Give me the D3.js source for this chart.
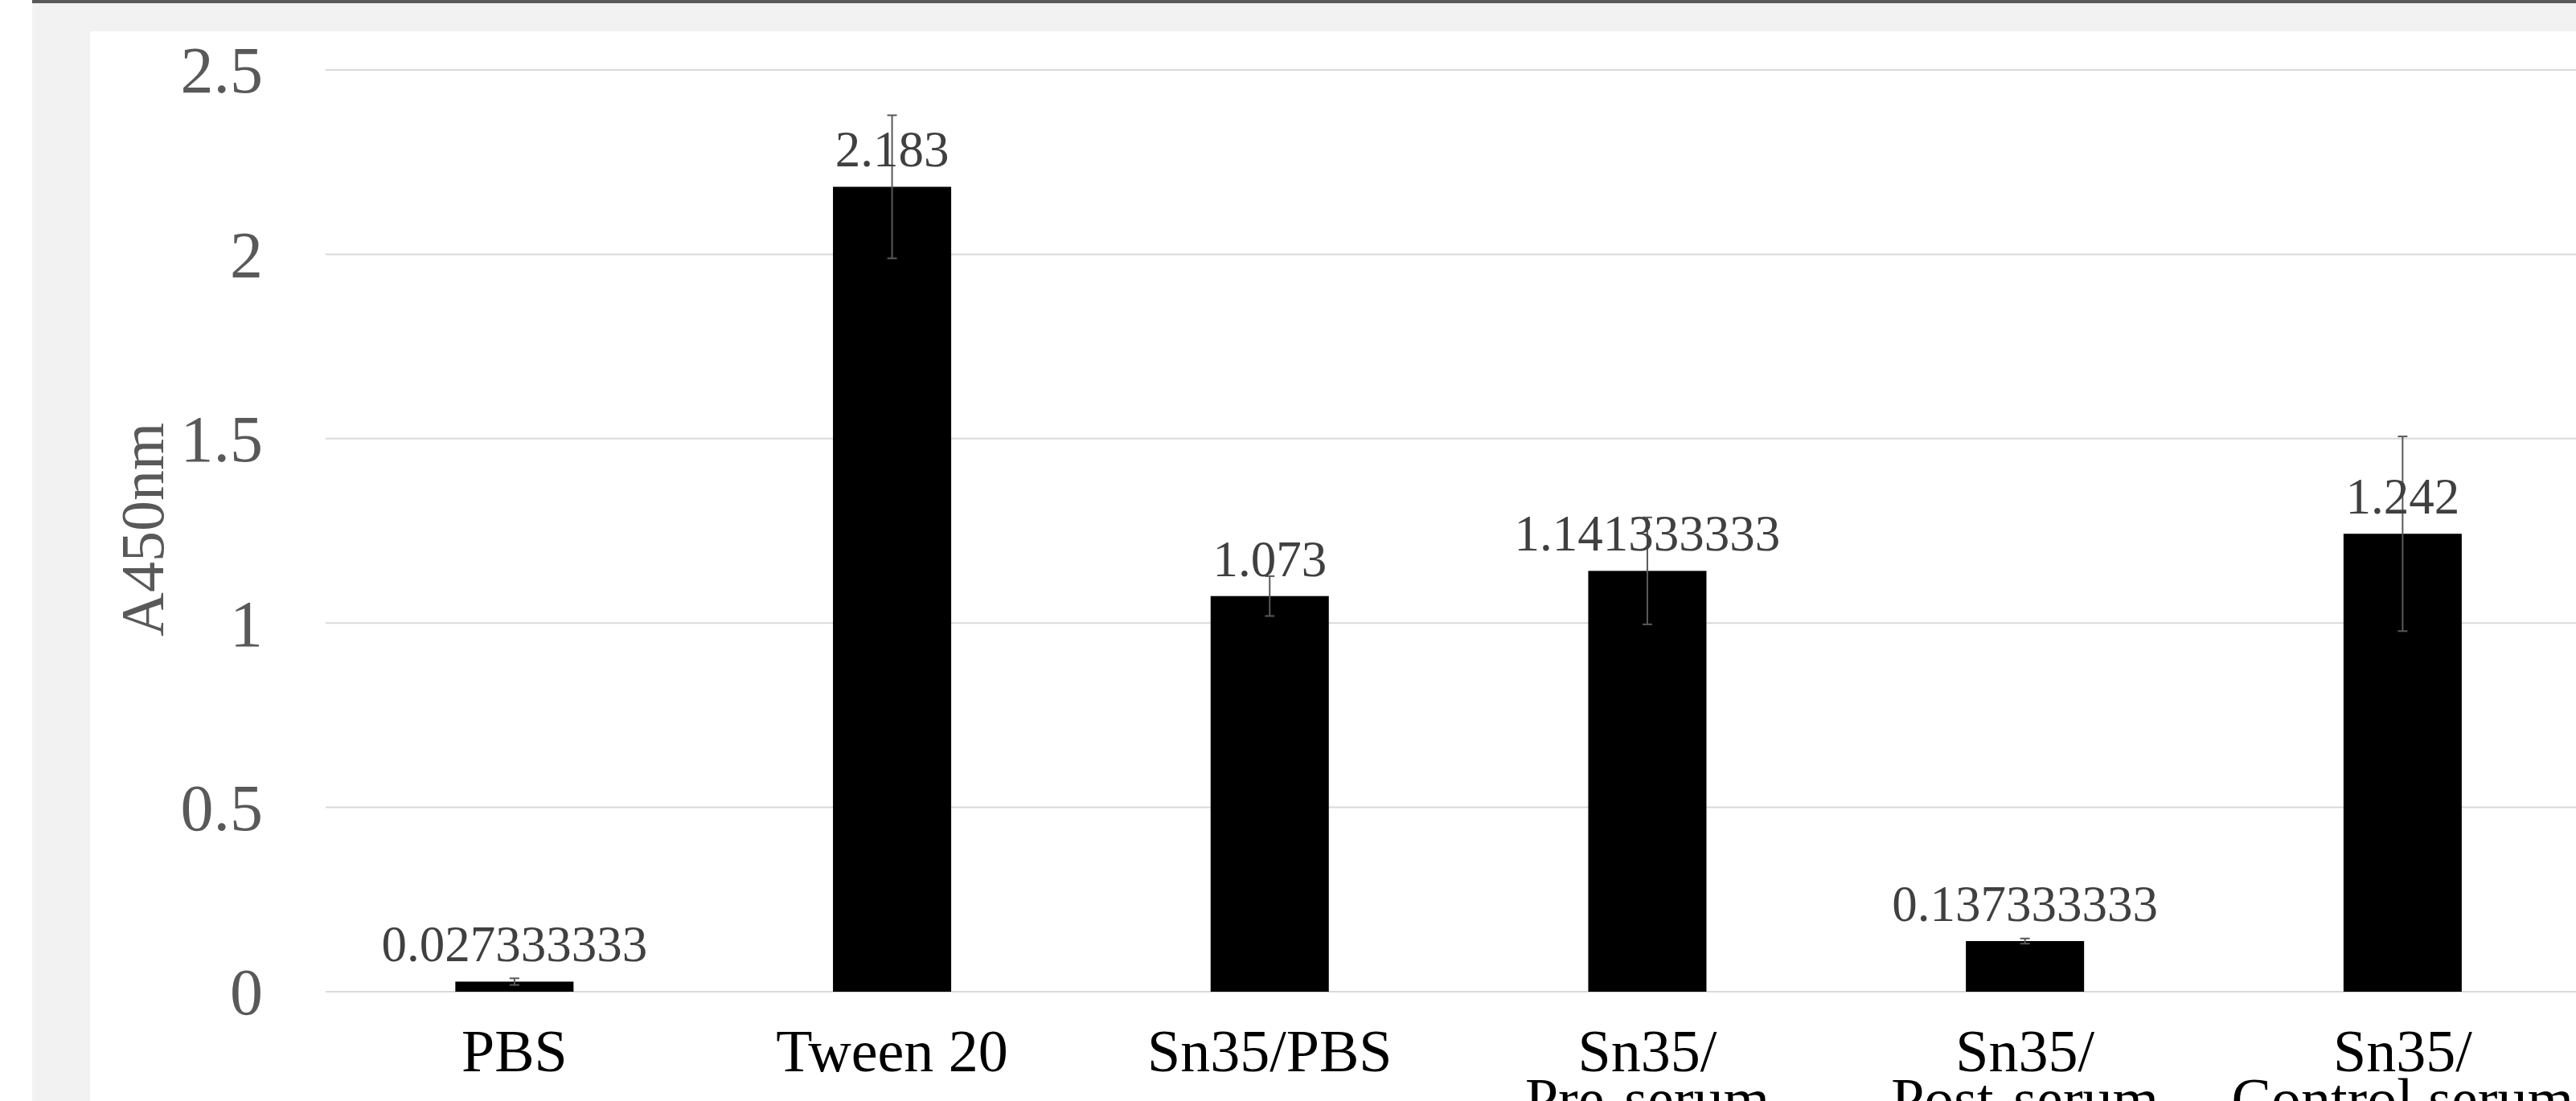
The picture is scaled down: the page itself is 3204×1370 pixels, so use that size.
<!DOCTYPE html>
<html>
<head>
<meta charset="utf-8">
<script src="https://cdn.jsdelivr.net/npm/d3@7"></script>
<style>
  html, body { margin: 0; padding: 0; background: #ffffff; overflow: hidden; }
  svg { display: block; }
</style>
</head>
<body>
<script>
// ---- data ----
const categories = ["PBS", "Tween 20", "Sn35/PBS", "Sn35/\nPre-serum", "Sn35/\nPost-serum", "Sn35/\nControl serum"];
const values = [0.027333333, 2.183, 1.073, 1.141333333, 0.137333333, 1.242];
const valueLabels = ["0.027333333", "2.183", "1.073", "1.141333333", "0.137333333", "1.242"];
const errors = [0.009, 0.194, 0.054, 0.145, 0.007, 0.264];
const yTicks = [0, 0.5, 1, 1.5, 2, 2.5];
const yTitle = "A450nm";

// ---- layout ----
const W = 3204, H = 1370;
const plotLeft = 405, step = 469.7;
const plotRight = plotLeft + step * categories.length;
const yTop = 87, yBottom = 1234;
const FONT = "'Liberation Serif', 'Times New Roman', serif";

const svg = d3.select("body").append("svg").attr("width", W).attr("height", H);

// frame / backgrounds
svg.append("rect").attr("x", 40).attr("y", 0).attr("width", W - 40).attr("height", H).attr("fill", "#f2f2f2");
svg.append("rect").attr("x", 40).attr("y", 0).attr("width", W - 40).attr("height", 4).attr("fill", "#595959");
svg.append("rect").attr("x", 112).attr("y", 39).attr("width", W - 112).attr("height", H - 39).attr("fill", "#ffffff");

const x = d3.scaleBand().domain(categories).range([plotLeft, plotRight])
  .paddingInner(0.687).paddingOuter(0.3435);
const y = d3.scaleLinear().domain([0, 2.5]).range([yBottom, yTop]);

// gridlines
svg.append("g").selectAll("line").data(yTicks).join("line")
  .attr("x1", plotLeft).attr("x2", plotRight)
  .attr("y1", d => y(d)).attr("y2", d => y(d))
  .attr("stroke", "#d9d9d9").attr("stroke-width", 2);

// y axis labels
const yAxis = d3.axisLeft(y).tickValues(yTicks).tickSize(0).tickPadding(78).tickFormat(d3.format("~g"));
const gy = svg.append("g").attr("transform", `translate(${plotLeft},0)`).call(yAxis);
gy.select(".domain").remove();
gy.selectAll("text")
  .attr("font-family", FONT).attr("font-size", 82).attr("fill", "#595959")
  .attr("dy", "0.34em");

// y title
svg.append("text")
  .attr("transform", `translate(203,659) rotate(-90)`)
  .attr("text-anchor", "middle")
  .attr("font-family", FONT).attr("font-size", 76).attr("fill", "#595959")
  .text(yTitle);

// bars
svg.append("g").selectAll("rect").data(categories).join("rect")
  .attr("x", d => x(d)).attr("width", x.bandwidth())
  .attr("y", (d, i) => y(values[i]))
  .attr("height", (d, i) => y(0) - y(values[i]))
  .attr("fill", "#000000");

// error bars
const eg = svg.append("g").attr("stroke", "#595959").attr("stroke-width", 2);
categories.forEach((c, i) => {
  const cx = x(c) + x.bandwidth() / 2;
  const hi = y(values[i] + errors[i]), lo = y(values[i] - errors[i]);
  eg.append("line").attr("x1", cx).attr("x2", cx).attr("y1", hi).attr("y2", lo);
  eg.append("line").attr("x1", cx - 6).attr("x2", cx + 6).attr("y1", hi).attr("y2", hi);
  eg.append("line").attr("x1", cx - 6).attr("x2", cx + 6).attr("y1", lo).attr("y2", lo);
});

// data labels
svg.append("g").selectAll("text").data(categories).join("text")
  .attr("x", d => x(d) + x.bandwidth() / 2)
  .attr("y", (d, i) => y(values[i]) - 25)
  .attr("text-anchor", "middle")
  .attr("font-family", FONT).attr("font-size", 63).attr("fill", "#404040")
  .text((d, i) => valueLabels[i]);

// category labels
const cl = svg.append("g").selectAll("text").data(categories).join("text")
  .attr("text-anchor", "middle")
  .attr("font-family", FONT).attr("font-size", 74).attr("fill", "#000000");
cl.each(function (d) {
  const t = d3.select(this);
  const cx = x(d) + x.bandwidth() / 2;
  d.split("\n").forEach((line, k) => {
    t.append("tspan").attr("x", cx).attr("y", 1333 + k * 60).text(line);
  });
});
</script>
</body>
</html>
